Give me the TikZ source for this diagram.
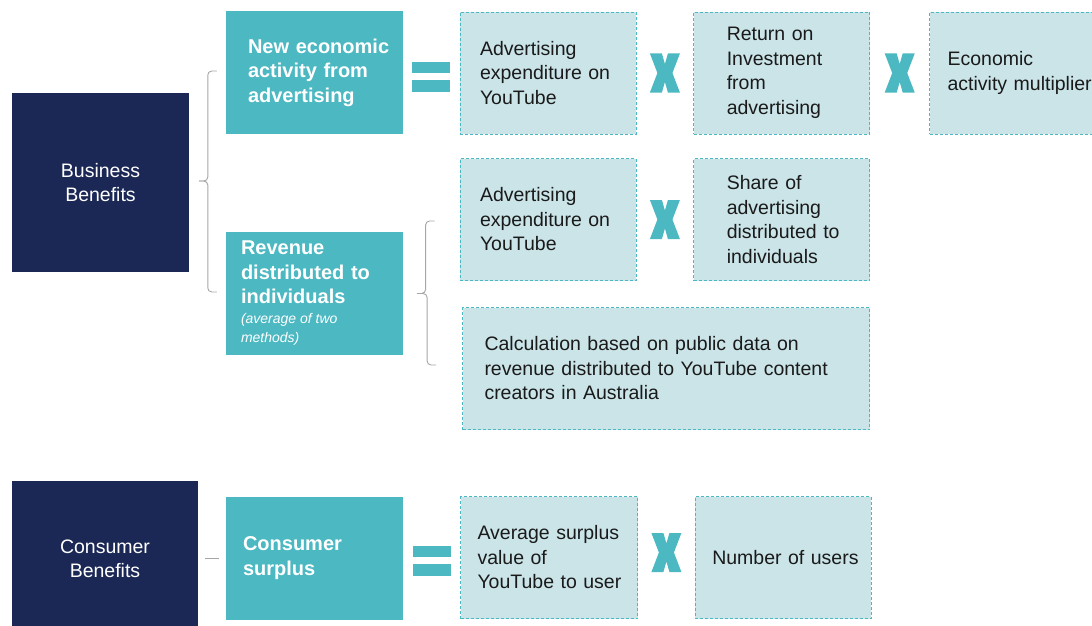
\documentclass[tikz,border=0pt]{standalone}
\usepackage{fontspec}
\setmainfont{Liberation Sans}
\usetikzlibrary{positioning,calc}
\definecolor{navy}{HTML}{1B2856}
\definecolor{ytteal}{HTML}{4BB8C2}
\definecolor{paleteal}{HTML}{CAE4E8}
\definecolor{bracegray}{HTML}{A6A6A6}
\definecolor{inktext}{HTML}{1A1A1A}
\hyphenpenalty=10000
\exhyphenpenalty=10000
\newcommand\notefont{\mdseries\itshape\fontsize{14}{19}\selectfont\spaceskip=0pt\relax}

\begin{document}
\begin{tikzpicture}
  [x=1pt,y=-1pt,
  benefit/.style={rectangle,fill=navy,text=white,align=center,inner sep=0pt,
    minimum width=177pt,minimum height=179pt,font=\fontsize{19.5}{24.5}\selectfont},
  driver/.style={rectangle,fill=ytteal,text=white,align=left,minimum height=123pt,
    inner xsep=17pt,text width=143pt,font=\bfseries\fontsize{20}{24.5}\selectfont},
  factor/.style={rectangle,draw=ytteal,fill=paleteal,densely dashed,line width=0.8pt,
    text=inktext,align=left,minimum height=122pt,inner xsep=20pt,text width=136pt,
    font=\fontsize{19.5}{24.5}\selectfont},
  brace/.style={draw=bracegray,line width=0.9pt,rounded corners=4pt},
  pics/equalsign/.style={code={
      \fill[ytteal] (-19,-15) rectangle (19,-4);
      \fill[ytteal] (-19,3) rectangle (19,15);}},
  pics/crossmark/.style={code={
      \fill[ytteal] (-15,-19.5) -- (-3,-19.5) -- (0,-9) -- (3,-19.5) -- (15,-19.5)
        -- (7.5,0) -- (15,19.5) -- (3,19.5) -- (0,9) -- (-3,19.5) -- (-15,19.5)
        -- (-7.5,0) -- cycle;}}
  ]
  \useasboundingbox (0,0) rectangle (1092,626);
  \clip (0,0) rectangle (1092,626);

  % business benefits
  \node[benefit] (bizben) at (100.5,182.5) {Business\\Benefits};
  \node[driver,inner xsep=22pt,text width=133pt] (newact) at (314.5,72.5)
    {New~economic\\activity~from\\advertising};
  \node[driver,inner xsep=15pt,text width=147pt] (revdist) at (314.5,293.5)
    {Revenue\\distributed~to\\individuals\\[-4.5pt]{\notefont(average of two}\\[-5.5pt]{\notefont methods)}};

  \node[factor] (adv1) at (548,73) {Advertising\\expenditure~on\\YouTube};
  \node[factor,right=57pt of adv1,inner xsep=33pt,text width=110pt] (roi)
    {Return on\\Investment\\from\\advertising};
  \node[factor,right=59pt of roi,inner xsep=18pt,text width=140pt] (multi)
    {Economic\\activity~multiplier};

  \node[factor] (adv2) at (548,219.5) {Advertising\\expenditure~on\\YouTube};
  \node[factor,right=57pt of adv2,inner xsep=33pt,text width=110pt] (share)
    {Share~of\\advertising\\distributed~to\\individuals};

  \node[factor,inner xsep=22pt,text width=363pt] (calc) at (666,368.5)
    {Calculation based on public data on\\revenue distributed to YouTube content\\creators in Australia};

  \pic at ($(newact.east)!0.5!(adv1.west)+(0,4)$) {equalsign};
  \pic at ($(adv1.east)!0.5!(roi.west)$) {crossmark};
  \pic at ($(roi.east)!0.5!(multi.west)$) {crossmark};
  \pic at ($(adv2.east)!0.5!(share.west)$) {crossmark};

  % braces
  \coordinate (bz1top) at ($(newact.west)+(-9,-1.5)$);
  \coordinate (bz1bot) at ($(revdist.west)+(-9,-1.5)$);
  \coordinate (bz1tip) at ($(bizben.east)+(10,-1.5)$);
  \draw[brace] (bz1top) -- ++(-9,0) |- (bz1tip);
  \draw[brace] (bz1bot) -- ++(-9,0) |- (bz1tip);

  \coordinate (bz2top) at ($(adv2.west)+(-25,1.5)$);
  \coordinate (bz2bot) at ($(calc.west)+(-26,-3.5)$);
  \coordinate (bz2tip) at ($(revdist.east)+(14,0)$);
  \draw[brace] (bz2top) -- ++(-9,0) |- (bz2tip);
  \draw[brace] (bz2bot) -- ++(-9,0) |- (bz2tip);

  % consumer benefits
  \node[benefit,minimum width=186pt,minimum height=156pt] (conben) at (105,559) {Consumer\\Benefits};
  \node[driver] (consur) at (314.5,558) {Consumer\\surplus};
  \node[factor,inner xsep=17pt,text width=143pt] (avgsur) at (549,557.5)
    {Average~surplus\\value of\\YouTube~to~user};
  \node[factor,right=57pt of avgsur,inner xsep=17pt,text width=142pt] (nusers)
    {Number~of~users};

  \draw[brace,shorten <=7pt,shorten >=7pt] (conben) -- (consur);
  \pic at ($(consur.east)!0.5!(avgsur.west)+(0,3)$) {equalsign};
  \pic at ($(avgsur.east)!0.5!(nusers.west)+(0,-5)$) {crossmark};
\end{tikzpicture}
\end{document}
